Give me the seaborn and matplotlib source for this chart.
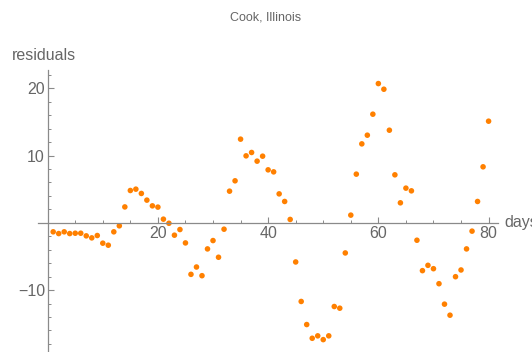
import seaborn as sns
import matplotlib.pyplot as plt
from matplotlib.ticker import MultipleLocator
import numpy as np
import pandas as pd

# Residuals per day
days = list(range(1, 81))
residuals = [
    -1.34, -1.6, -1.34, -1.6, -1.55, -1.55, -1.94, -2.24, -1.89, -3.03,
    -3.33, -1.34, -0.45, 2.36, 4.8, 5.0, 4.36, 3.37, 2.52, 2.33,
    0.54, -0.07, -1.84, -1.0, -2.99, -7.66, -6.57, -7.86, -3.88, -2.64,
    -5.12, -0.95, 4.7, 6.24, 12.43, 9.95, 10.45, 9.16, 9.9, 7.87,
    7.57, 4.3, 3.17, 0.5, -5.82, -11.69, -15.12, -17.16, -16.8, -17.36,
    -16.8, -12.44, -12.69, -4.48, 1.14, 7.23, 11.73, 13.02, 16.14, 20.69,
    19.85, 13.76, 7.13, 2.97, 5.15, 4.75, -2.59, -7.11, -6.32, -6.82,
    -9.05, -12.09, -13.73, -8.01, -7.01, -3.88, -1.24, 3.17, 8.32, 15.1,
]
data = pd.DataFrame({'days': days, 'residuals': residuals})

sns.set_style('white')
plt.rcParams['font.family'] = ['Liberation Sans', 'DejaVu Sans']

axis_gray = '#8a8a8a'
text_gray = '#666666'

fig = plt.figure(figsize=(5.32, 3.52), dpi=100)
ax = fig.add_axes([0.072, 0.0, 0.864, 0.801])

sns.scatterplot(x='days', y='residuals', data=data, ax=ax,
                color='#ff8000', s=16, edgecolor='none', linewidth=0)

ax.set_xlim(-1.7, 81.7)
ax.set_ylim(-19.2, 22.7)

# Mathematica-style axes crossing at the origin
for side in ['top', 'right']:
    ax.spines[side].set_visible(False)
ax.spines['left'].set_position(('data', 0))
ax.spines['bottom'].set_position(('data', 0))
for side in ['left', 'bottom']:
    ax.spines[side].set_color(axis_gray)
    ax.spines[side].set_linewidth(0.9)

ax.xaxis.set_major_locator(MultipleLocator(20))
ax.xaxis.set_minor_locator(MultipleLocator(5))
ax.yaxis.set_major_locator(MultipleLocator(10))
ax.yaxis.set_minor_locator(MultipleLocator(2))
ax.set_xticks([20, 40, 60, 80])
ax.set_yticks([-10, 10, 20])

ax.tick_params(which='major', direction='in', length=4, width=0.8,
               color=axis_gray, labelcolor=text_gray, labelsize=11.5, pad=2)
ax.tick_params(which='minor', direction='in', length=2.5, width=0.7,
               color=axis_gray)
ax.tick_params(axis='x', which='both', bottom=True)
ax.tick_params(axis='y', which='both', left=True)

ax.set_xlabel('days', fontsize=11.5, color=text_gray, ha='left', va='center')
ax.xaxis.set_label_coords(1.015, 0.461)
ax.set_ylabel('residuals', fontsize=11.5, color=text_gray, rotation=0,
              ha='left', va='center')
ax.yaxis.set_label_coords(-0.057, 1.053)

fig.text(0.5, 1 - 18 / 352, 'Cook, Illinois', ha='center', va='center',
         fontsize=9, color=text_gray)

plt.savefig('out.png', dpi=100)
